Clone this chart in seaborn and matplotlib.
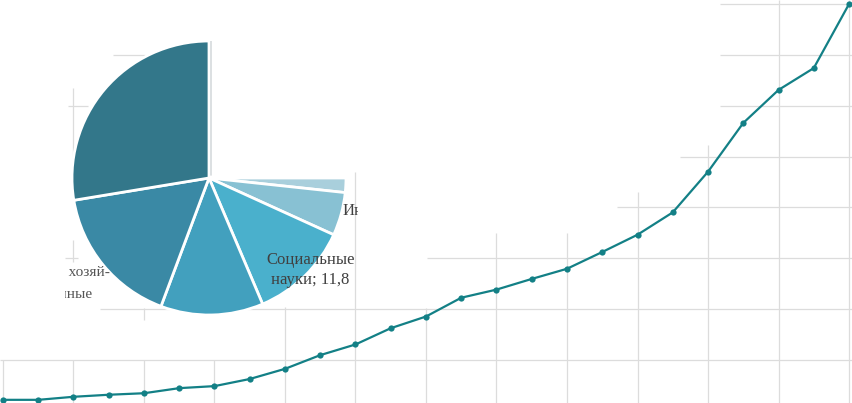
import matplotlib
matplotlib.use('Agg')
import matplotlib.pyplot as plt
import seaborn as sns
import pandas as pd
from matplotlib.transforms import Bbox, TransformedBbox

# Linie: Werte je Jahr (Achsenbeschriftung im Original nicht sichtbar)
years = list(range(1990, 2015))
values = [0.21, 0.21, 0.27, 0.31, 0.34, 0.44, 0.48, 0.62, 0.82, 1.09,
          1.30, 1.62, 1.85, 2.22, 2.38, 2.59, 2.79, 3.12, 3.46, 3.90,
          4.70, 5.66, 6.31, 6.74, 8.00]

# Kreis: Anteile im Uhrzeigersinn ab 12 Uhr
pie_shares = [25.0, 1.7, 5.1, 11.8, 12.1, 16.7, 27.6]
pie_colors = ['#ffffff', '#a9cfdc', '#88c1d3', '#4ab0cc', '#42a0be', '#3a89a5', '#33778a']
social_label = 'Социальные\nнауки; 11,8'

W, H = 852, 403
sns.set_theme(style='white')
plt.rcParams['font.family'] = ['Liberation Serif', 'DejaVu Serif']

fig = plt.figure(figsize=(W / 100, H / 100), dpi=100)
ax = fig.add_axes([0, 0, 1, 1])

def px_x(px):
    return years[0] + (px - 3) / 35.25

def px_y(py):
    return (410.5 - py) / 50.8

df = pd.DataFrame({'year': years, 'value': values})

# sichtbare Gitterstuecke (Rest im Original weiss ueberdeckt)
grid_c = '#dcdcdc'
h_grid = {1: 0, 2: 100, 3: 427, 4: 617, 5: 680, 6: 720, 7: 720, 8: 720}
h_frag = [(3, 65, 78), (6, 68, 88), (7, 113, 145)]
v_grid = {0: 360, 2: 360, 4: 360, 6: 360, 8: 307, 10: 172, 12: 308,
          14: 233, 16: 233, 18: 192, 20: 145, 22: 0, 24: 0}
v_frag = [(2, 240, 262), (2, 88, 167), (4, 308, 320)]

for lvl, x0 in h_grid.items():
    ax.hlines(lvl, px_x(x0), px_x(W), color=grid_c, lw=0.9, zorder=1)
for lvl, x0, x1 in h_frag:
    ax.hlines(lvl, px_x(x0), px_x(x1), color=grid_c, lw=0.9, zorder=1)
for i, y0 in v_grid.items():
    ax.vlines(years[i], px_y(H), px_y(y0), color=grid_c, lw=0.9, zorder=1)
for i, y0, y1 in v_frag:
    ax.vlines(years[i], px_y(y1), px_y(y0), color=grid_c, lw=0.9, zorder=1)

sns.lineplot(data=df, x='year', y='value', ax=ax, color='#138086', lw=1.6,
             marker='o', markersize=4.5, markeredgewidth=0, zorder=3)
ax.set_xlim(px_x(0), px_x(W))
ax.set_ylim(px_y(H), px_y(0))
ax.set_axis_off()

def clip_px(x0, y0, x1, y1):
    return TransformedBbox(Bbox.from_extents(x0 / W, 1 - y1 / H, x1 / W, 1 - y0 / H),
                           fig.transFigure)

# abgeschnittene Beschriftungen links (vom Kreis verdeckt)
t1 = fig.text(110 / W, 1 - 273 / H, 'Сельское хозяй-', ha='right', va='center',
              fontsize=11, color='#555555')
t1.set_clip_box(clip_px(65, 0, W, H))
t1.set_clip_on(True)
t2 = fig.text(93 / W, 1 - 294 / H, 'ственные', ha='right', va='center',
              fontsize=11, color='#555555')
t2.set_clip_box(clip_px(65, 0, W, H))
t2.set_clip_on(True)

# Kreisdiagramm
cx, cy, r = 209, 178, 137
pax = fig.add_axes([(cx - r) / W, (H - cy - r) / H, 2 * r / W, 2 * r / H])
pax.pie(pie_shares, colors=pie_colors, startangle=90, counterclock=False,
        wedgeprops=dict(edgecolor='white', linewidth=2))
pax.plot([0.012, 0.012], [0.02, 1.0], color='#d5dadd', lw=1.2)
pax.set_xlim(-1, 1)
pax.set_ylim(-1, 1)
pax.set_axis_off()

pax.text(0.741, -0.672, social_label, ha='center', va='center', fontsize=12,
         color='#404040', linespacing=1.4)
t3 = pax.text(0.978, -0.241, 'Инженерные', ha='left', va='center', fontsize=12,
              color='#404040')
t3.set_clip_box(clip_px(0, 0, 358, H))
t3.set_clip_on(True)

fig.savefig('out.png', dpi=100)
